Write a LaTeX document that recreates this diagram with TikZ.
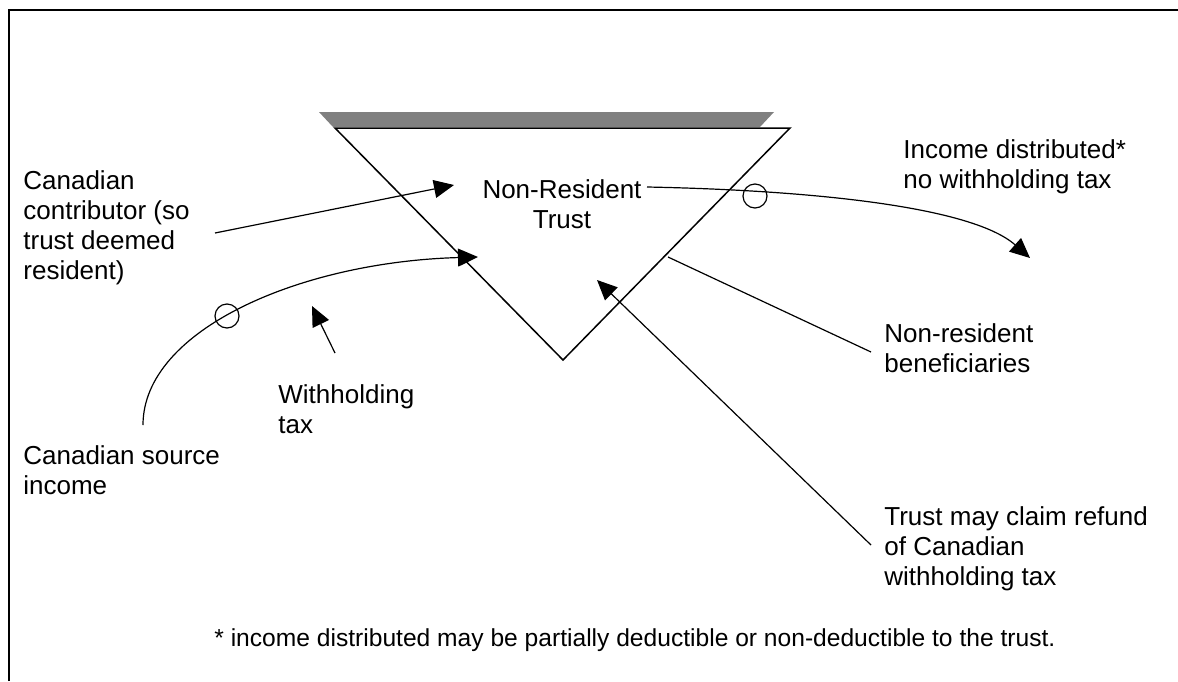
\documentclass[tikz,border=0pt]{standalone}
\usepackage{fontspec}
\setmainfont{Liberation Sans}
\usetikzlibrary{arrows.meta}

\tikzset{
  lbl/.style={anchor=base west, align=left, inner sep=0pt, font=\fontsize{13}{15}\selectfont},
  conn/.style={line width=0.6pt},
  arr/.style={conn, -{Triangle[length=10pt,width=9pt]}}
}

\begin{document}
\begin{tikzpicture}[x=0.5pt,y=-0.5pt]
  \useasboundingbox (0,0) rectangle (1178,681);

  % Frame
  \draw[line width=1.2pt] (9,681) -- (9,10) -- (1178,10);

  % Trust triangle and its shadow
  \fill[black!50] (319,112) -- (774,112) -- (760,127) -- (333,127) -- cycle;
  \draw[fill=white, line width=0.75pt] (335,128) -- (790,128) -- (563,360) -- cycle;

  % Labels (placed at the baseline of their last line)
  \node[lbl, anchor=base, align=center] (trust) at (562,228) {Non-Resident\\Trust};
  \node[lbl] (contrib) at (23,279) {Canadian\\contributor (so\\trust deemed\\resident)};
  \node[lbl] (source) at (23,494) {Canadian source\\income};
  \node[lbl] (wht) at (278,433) {Withholding\\tax};
  \node[lbl] (dist) at (903,188) {Income distributed*\\no withholding tax};
  \node[lbl] (benef) at (884,372) {Non-resident\\beneficiaries};
  \node[lbl] (refund) at (884,585) {Trust may claim refund\\of Canadian\\withholding tax};
  \node[lbl, font=\fontsize{12.3}{14}\selectfont] (note) at (214,646)
    {* income distributed may be partially deductible or non-deductible to the trust.};

  % Connector ends
  \coordinate (contribTail) at (215,233);
  \coordinate (contribTip) at (454,185);
  \coordinate (srcTail) at (143,425);
  \coordinate (srcTip) at (478,257);
  \coordinate (whtTail) at (335,353);
  \coordinate (whtTip) at (312,306);
  \coordinate (distTail) at (647,187);
  \coordinate (distTip) at (1030,258);
  \coordinate (benTail) at (871,352);
  \coordinate (benHead) at (668,257);
  \coordinate (refTail) at (871,545);
  \coordinate (refTip) at (597,280);

  % Connectors
  \draw[arr] (contribTail) -- (contribTip);
  \draw[arr] (srcTail) .. controls (143,330) and (300,262) .. (srcTip);
  \draw[arr] (whtTail) -- (whtTip);
  \draw[arr] (distTail) .. controls (800,190) and (970,205) .. (distTip);
  \draw[conn] (benTail) -- (benHead);
  \draw[arr] (refTail) -- (refTip);

  % Tax markers on the flows
  \foreach \p in {(227,316),(755,196)}
    \draw[conn] \p circle[radius=6pt];
\end{tikzpicture}
\end{document}
